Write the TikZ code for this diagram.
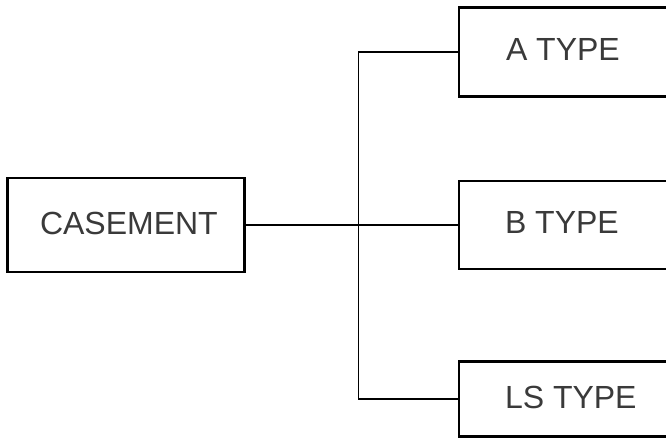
\documentclass[tikz,border=0pt]{standalone}
\usepackage{fontspec}
\setmainfont{Liberation Sans}
\definecolor{txtgray}{HTML}{3A3A3A}
\begin{document}
\begin{tikzpicture}[x=1pt,y=-1pt,
  box/.style={draw=black, line width=2.8pt, fill=white, rectangle, anchor=north west, outer sep=0pt, inner sep=0pt},
  lbl/.style={anchor=base west, inner sep=0pt, outer sep=0pt, text=txtgray, font=\fontsize{32}{38}\selectfont},
  conn/.style={draw=black, line width=1.5pt},
  mainconn/.style={draw=black, line width=2pt}]
\useasboundingbox (0,0) rectangle (666,438);
\clip (0,0) rectangle (666,438);
\node[box, minimum width=237pt, minimum height=94pt] (cas) at (7.5,178) {};
\node[box, minimum width=230pt, minimum height=89pt] (a) at (459,7.7) {};
\node[box, minimum width=230pt, minimum height=88pt] (b) at (459,181) {};
\node[box, minimum width=230pt, minimum height=75pt] (ls) at (459,361.7) {};
\node[lbl] (castxt) at (40,235) {CASEMENT};
\node[lbl] (atxt) at (506,60.5) {A TYPE};
\node[lbl] (btxt) at (505,234) {B TYPE};
\node[lbl] (lstxt) at (505,408) {LS TYPE};
\coordinate (j) at (358.5,225);
\draw[mainconn] (cas.east) -- (b.west);
\draw[conn] (a.west) -| (j) |- (ls.west);
\end{tikzpicture}
\end{document}
